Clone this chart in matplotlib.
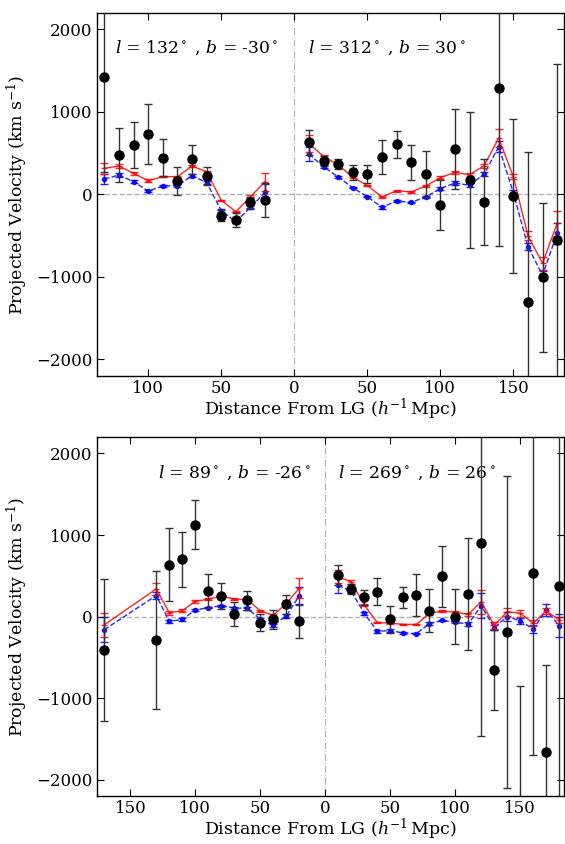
import matplotlib

matplotlib.use("Agg")

import matplotlib.pyplot as plt
from matplotlib.ticker import FuncFormatter, MultipleLocator

# ---- data: distances (h^-1 Mpc); left half of each panel is plotted at -d ----
dist_top_left = [130, 120, 110, 100, 90, 80, 70, 60, 50, 40, 30, 20]
dist_top_right = [10, 20, 30, 40, 50, 60, 70, 80, 90, 100, 110, 120, 130, 140, 150, 160, 170, 180]
dist_bot_left = [170, 130, 120, 110, 100, 90, 80, 70, 60, 50, 40, 30, 20]
dist_bot_right = dist_top_right

# panel 1, l = 132, b = -30
obs_tl = [1415, 476, 597, 726, 444, 161, 423, 222, -258, -310, -97, -69]
obs_tl_err = [1150, 330, 280, 363, 222, 170, 172, 110, 70, 80, 70, 205]
red_tl = [315, 343, 254, 165, 214, 214, 343, 274, -73, -210, -28, 153]
red_tl_err = [70, 25, 20, 15, 10, 10, 15, 10, 10, 10, 15, 110]
blue_tl = [185, 234, 153, 40, 101, 105, 226, 141, -198, -331, -157, 24]
blue_tl_err = [65, 25, 20, 15, 10, 20, 15, 15, 20, 20, 20, 100]

# panel 1, l = 312, b = 30
obs_tr = [629, 403, 367, 266, 250, 456, 609, 387, 250, -129, 544, 173, -89, 1286, -16, -1302, -1004, -552]
obs_tr_err = [147, 65, 65, 90, 110, 205, 163, 215, 278, 300, 484, 827, 520, 1911, 933, 1810, 903, 2125]
red_tr = [617, 460, 359, 206, 109, -32, 44, 28, 101, 202, 266, 238, 347, 681, 214, -500, -835, -351]
red_tr_err = [100, 20, 15, 10, 10, 10, 10, 10, 10, 15, 15, 20, 25, 110, 30, 50, 80, 150]
blue_tr = [488, 335, 210, 81, -28, -157, -81, -97, -32, 69, 137, 109, 246, 577, 20, -633, -980, -472]
blue_tr_err = [90, 20, 15, 10, 10, 15, 10, 10, 10, 15, 20, 25, 20, 70, 30, 40, 50, 130]

# panel 2, l = 89, b = -26
obs_bl = [-413, -287, 635, 700, 1126, 311, 250, 28, 198, -77, -36, 149, -56]
obs_bl_err = [870, 843, 450, 340, 302, 210, 157, 150, 118, 105, 117, 115, 210]
red_bl = [-101, 339, 44, 73, 185, 214, 250, 214, 210, 69, 16, 161, 347]
red_bl_err = [145, 75, 20, 15, 15, 15, 10, 10, 10, 15, 15, 40, 120]
blue_bl = [-161, 258, -60, -36, 81, 109, 133, 105, 101, -32, -109, 8, 254]
blue_bl_err = [150, 40, 20, 15, 15, 10, 10, 15, 15, 15, 20, 25, 110]

# panel 2, l = 269, b = 26
obs_br = [512, 335, 234, 306, -36, 234, 266, 73, 496, 0, 278, 899, -657, -190, -2700, 540, -1661, 371]
obs_br_err = [120, 60, 90, 161, 170, 131, 258, 268, 373, 333, 690, 2363, 490, 1915, 1850, 2234, 1064, 2800]
red_br = [492, 423, 141, -73, -81, -97, -97, 36, 69, 52, 28, 181, -109, 60, 40, -81, 69, -40]
red_br_err = [80, 20, 15, 10, 15, 10, 10, 15, 10, 15, 20, 150, 40, 50, 40, 40, 40, 40]
blue_br = [383, 310, 40, -181, -173, -202, -210, -89, -48, -69, -93, 133, -137, 0, -52, -153, 81, -113]
blue_br_err = [100, 20, 15, 15, 15, 10, 10, 20, 10, 15, 20, 150, 30, 55, 40, 45, 70, 140]

panels = [
    dict(left=(dist_top_left, obs_tl, obs_tl_err, red_tl, red_tl_err, blue_tl, blue_tl_err),
         right=(dist_top_right, obs_tr, obs_tr_err, red_tr, red_tr_err, blue_tr, blue_tr_err),
         labels=(r"$l$ = 132$^\circ$ , $b$ = -30$^\circ$", r"$l$ = 312$^\circ$ , $b$ = 30$^\circ$"),
         label_x=(0.038, 0.451), xlim=(-135, 185)),
    dict(left=(dist_bot_left, obs_bl, obs_bl_err, red_bl, red_bl_err, blue_bl, blue_bl_err),
         right=(dist_bot_right, obs_br, obs_br_err, red_br, red_br_err, blue_br, blue_br_err),
         labels=(r"$l$ = 89$^\circ$ , $b$ = -26$^\circ$", r"$l$ = 269$^\circ$ , $b$ = 26$^\circ$"),
         label_x=(0.13, 0.515), xlim=(-175.5, 184)),
]

plt.rcParams.update({
    "font.family": ["DejaVu Serif"],
    "mathtext.fontset": "dejavuserif",
    "font.size": 12,
    "axes.linewidth": 1.0,
})

fig = plt.figure(figsize=(5.65, 8.44), dpi=100)
boxes = [(0.172, 0.5545, 0.827, 0.4305), (0.172, 0.057, 0.827, 0.425)]


def draw_half(ax, sign, dist, obs, obs_err, red, red_err, blue, blue_err):
    x = [sign * d for d in dist]
    ax.errorbar(x, blue, yerr=blue_err, color="blue", ls="--", lw=1.0, marker=".", ms=6,
                ecolor="blue", elinewidth=1.0, capsize=3, zorder=3, alpha=0.85)
    ax.errorbar(x, red, yerr=red_err, color="red", ls="-", lw=1.0, marker="_", ms=4,
                ecolor="red", elinewidth=1.0, capsize=3, zorder=4, alpha=0.85)
    ax.errorbar(x, obs, yerr=obs_err, color="black", ls="none", marker="o", ms=6.5,
                ecolor="0.2", elinewidth=1.0, capsize=3, zorder=5)


for box, p in zip(boxes, panels):
    ax = fig.add_axes(box)
    ax.axhline(0, color="0.7", ls="--", lw=1.0, zorder=1)
    ax.axvline(0, color="0.7", ls="-.", lw=0.8, zorder=1)
    draw_half(ax, -1, *p["left"])
    draw_half(ax, 1, *p["right"])

    ax.set_xlim(*p["xlim"])
    ax.set_ylim(-2200, 2200)
    ax.xaxis.set_major_locator(MultipleLocator(50))
    ax.yaxis.set_major_locator(MultipleLocator(1000))
    ax.xaxis.set_major_formatter(FuncFormatter(lambda v, pos: f"{abs(int(round(v)))}"))
    ax.yaxis.set_major_formatter(FuncFormatter(
        lambda v, pos: f"{int(v)}" if v >= 0 else "\u2212" + f"{int(-v)}"))
    ax.tick_params(direction="in", top=True, right=True, length=5, width=0.8, labelsize=12)
    ax.tick_params(axis="x", pad=3)

    ax.set_xlabel(r"Distance From LG ($h^{-1}\,$Mpc)", fontsize=12.5, labelpad=0)
    ax.set_ylabel(r"Projected Velocity (km s$^{-1}$)", fontsize=12.5, labelpad=4)

    for lx, text in zip(p["label_x"], p["labels"]):
        ax.text(lx, 0.902, text, transform=ax.transAxes, ha="left", va="center", fontsize=12.3)

fig.savefig("out.png", dpi=100)
